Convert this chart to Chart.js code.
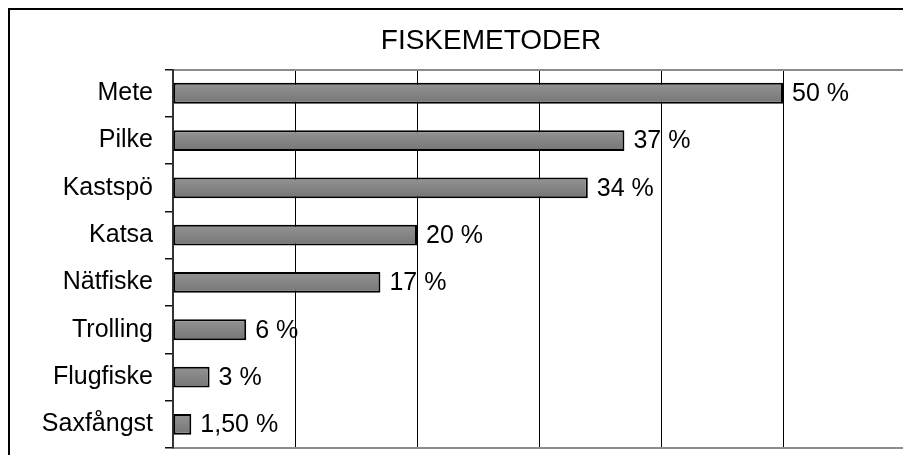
<!DOCTYPE html>
<html>
<head>
<meta charset="utf-8">
<script src="https://cdn.jsdelivr.net/npm/chart.js@4.4.1/dist/chart.umd.min.js"></script>
<style>
  html, body { margin: 0; padding: 0; background: #fff; overflow: hidden; }
  #ram { position: absolute; left: 8px; top: 8px; width: 1200px; height: 800px;
         border-left: 2px solid #000; border-top: 2px solid #000; }
  #behallare { position: absolute; left: 0; top: 0; width: 982px; height: 455px; }
</style>
</head>
<body>
<div id="ram"></div>
<div id="behallare"><canvas id="grafFiske"></canvas></div>
<script>
const metoder = ["Mete", "Pilke", "Kastspö", "Katsa", "Nätfiske", "Trolling", "Flugfiske", "Saxfångst"];
const andelar = [50, 37, 34, 20, 17, 6, 3, 1.5];
const andelEtiketter = ["50 %", "37 %", "34 %", "20 %", "17 %", "6 %", "3 %", "1,50 %"];
const axelMax = 60;
const axelSteg = 10;

const typsnitt = "'Liberation Sans', Arial, sans-serif";

// skriver procenttalen till höger om staplarna
const vardeEtiketter = {
    id: "vardeEtiketter",
    afterDatasetsDraw(chart) {
        const ctx = chart.ctx;
        const meta = chart.getDatasetMeta(0);
        ctx.save();
        ctx.font = "25px " + typsnitt;
        ctx.fillStyle = "#000";
        ctx.textBaseline = "middle";
        meta.data.forEach((stapel, i) => {
            ctx.fillText(andelEtiketter[i], stapel.x + 9, stapel.y + 1);
        });
        ctx.restore();
    }
};

function stapelFarg(context) {
    const chart = context.chart;
    const y = chart.scales.y;
    if (!y || context.dataIndex === undefined) return "#888";
    const mitt = y.getPixelForValue(context.dataIndex);
    if (!isFinite(mitt)) return "#888";
    const g = chart.ctx.createLinearGradient(0, mitt - 10, 0, mitt + 10);
    g.addColorStop(0, "#939393");
    g.addColorStop(1, "#767676");
    return g;
}

const ctx = document.getElementById("grafFiske").getContext("2d");
new Chart(ctx, {
    type: "bar",
    data: {
        labels: metoder,
        datasets: [{
            data: andelar,
            backgroundColor: stapelFarg,
            borderColor: "#000",
            borderWidth: 2,
            borderSkipped: false,
            categoryPercentage: 1,
            barPercentage: 0.44
        }]
    },
    plugins: [vardeEtiketter],
    options: {
        indexAxis: "y",
        responsive: true,
        maintainAspectRatio: false,
        animation: false,
        layout: { padding: { left: 0, right: 0, top: 0, bottom: 7 } },
        plugins: {
            legend: { display: false },
            tooltip: { enabled: false },
            title: {
                display: true,
                text: "FISKEMETODER",
                color: "#000",
                font: { family: typsnitt, size: 28, weight: "normal", lineHeight: 1.2 },
                padding: { top: 24, bottom: 12 }
            }
        },
        scales: {
            x: {
                min: 0,
                max: axelMax,
                ticks: { display: false, stepSize: axelSteg },
                grid: { color: "#000", lineWidth: 1, drawTicks: false },
                border: { display: true, color: "#8c8c8c", width: 2 },
                afterFit: s => { s.height = 0; }
            },
            xTopp: {
                axis: "x",
                position: "top",
                min: 0,
                max: axelMax,
                ticks: { display: false },
                grid: { display: false, drawTicks: false },
                border: { display: true, color: "#8c8c8c", width: 2 },
                afterFit: s => { s.height = 0; }
            },
            y: {
                grid: { drawOnChartArea: false, drawTicks: true, tickLength: 8, color: "#111", lineWidth: 1.5 },
                border: { display: true, color: "#333", width: 2 },
                ticks: {
                    color: "#000",
                    padding: 12,
                    font: { family: typsnitt, size: 25 }
                },
                afterFit: s => { s.width = 173; s.paddingTop = 0; s.paddingBottom = 0; }
            },
            // tom axel till höger så att titeln centreras över hela ytan
            yHoger: {
                axis: "y",
                type: "category",
                position: "right",
                ticks: { display: false },
                grid: { display: false, drawTicks: false },
                border: { display: false },
                afterFit: s => { s.width = 77; s.paddingTop = 0; s.paddingBottom = 0; }
            }
        }
    }
});
</script>
</body>
</html>
